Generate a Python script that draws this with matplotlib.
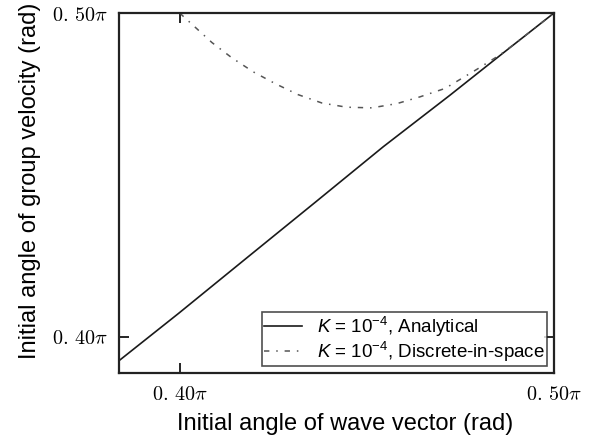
import numpy as np
import matplotlib
matplotlib.use("Agg")
import matplotlib.pyplot as plt
from matplotlib.font_manager import FontProperties

plt.rcParams['font.family'] = ['Liberation Sans', 'DejaVu Sans']
plt.rcParams['mathtext.fontset'] = 'custom'
plt.rcParams['mathtext.rm'] = 'Liberation Sans'
plt.rcParams['mathtext.it'] = 'Liberation Sans:italic'

# values, in units of pi
analytic_x = [0.3838, 0.3997, 0.4184, 0.4364, 0.4544, 0.4722, 0.4856, 0.5000]
analytic_y = [0.3926, 0.4072, 0.4248, 0.4417, 0.4587, 0.4746, 0.4869, 0.5000]

discrete_x = [0.4000, 0.4086, 0.4139, 0.4197, 0.4255, 0.4316, 0.4380, 0.4446,
              0.4513, 0.4580, 0.4642, 0.4709, 0.4794, 0.4856, 0.4900, 0.5000]
discrete_y = [0.5000, 0.4909, 0.4862, 0.4818, 0.4782, 0.4748, 0.4722, 0.4709,
              0.4707, 0.4720, 0.4741, 0.4767, 0.4826, 0.4871, 0.4909, 0.5000]

x_ticks = [0.40, 0.50]
y_ticks = [0.40, 0.50]
tick_labels = [r'$0.\,40\pi$', r'$0.\,50\pi$']

fig = plt.figure(figsize=(5.96, 4.38), dpi=100)
ax = fig.add_axes([119 / 596, 1 - 373 / 438, 435 / 596, 360 / 438])

ax.plot(analytic_x, analytic_y, color='#1a1a1a', lw=1.2,
        label=r'$K$ = 10$^{-4}$, Analytical')
ax.plot(discrete_x, discrete_y, color='#555555', lw=1.1, linestyle=(0, (3.5, 4.5, 1, 4.5)),
        label=r'$K$ = 10$^{-4}$, Discrete-in-space')

ax.set_xlim(0.3838, 0.50)
ax.set_ylim(0.3888, 0.50)
ax.set_xticks(x_ticks)
ax.set_yticks(y_ticks)
ax.set_xticklabels(tick_labels, fontsize=14.5, math_fontfamily='cm')
ax.set_yticklabels(tick_labels, fontsize=14.5, math_fontfamily='cm')
ax.tick_params(direction='in', top=True, right=True, length=7, width=1.2)
ax.tick_params(axis='x', pad=9)
ax.tick_params(axis='y', pad=8)
for s in ax.spines.values():
    s.set_linewidth(1.6)
    s.set_color('#222222')

ax.set_xlabel('Initial angle of wave vector (rad)', fontsize=17)
ax.set_ylabel('Initial angle of group velocity (rad)', fontsize=17)
ax.xaxis.set_label_coords(0.52, -0.11)
ax.yaxis.set_label_coords(-0.18, 0.535)

leg = ax.legend(loc='lower right', prop=FontProperties(size=13.5, math_fontfamily='custom'),
                frameon=True, fancybox=False, edgecolor='#222222', borderpad=0.15,
                labelspacing=0.05, handlelength=2.0, handletextpad=0.8, borderaxespad=0.35)
leg.get_frame().set_linewidth(1.2)

fig.savefig('out.png', dpi=100)
